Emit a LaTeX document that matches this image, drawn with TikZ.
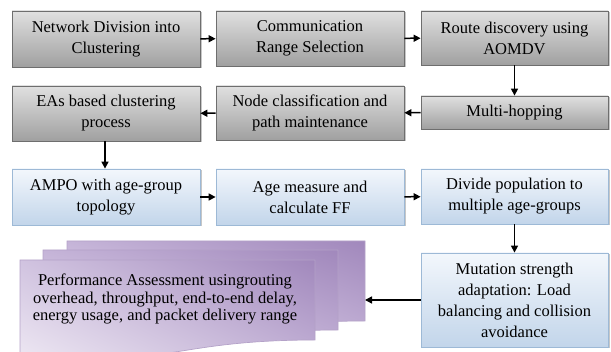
\documentclass[tikz,border=0pt]{standalone}
\usepackage{fontspec}
\setmainfont{Liberation Serif}
\usetikzlibrary{shadows,arrows.meta,shadings}
\definecolor{gborder}{HTML}{6E6E6E}
\definecolor{gtop}{HTML}{E0E0E0}
\definecolor{gbot}{HTML}{A0A0A0}
\definecolor{bborder}{HTML}{9DB9D6}
\definecolor{btop}{HTML}{F3F7FC}
\definecolor{bbot}{HTML}{C2D5EA}
\definecolor{pborder}{HTML}{B4A2C8}
\definecolor{pdark}{HTML}{A188BC}
\definecolor{pmid}{HTML}{C5B4D8}
\definecolor{plight}{HTML}{F1ECF5}
\begin{document}
\begin{tikzpicture}[x=1pt,y=-1pt,
  boxbase/.style={line width=0.8pt, align=center, inner sep=2pt,
    font=\fontsize{16.5}{21}\selectfont, minimum width=188pt,
    drop shadow={shadow xshift=1.5pt,shadow yshift=-1.5pt,fill=gray!55,opacity=0.8}},
  gbox/.style={boxbase, draw=gborder, top color=gtop, bottom color=gbot},
  bbox/.style={boxbase, draw=bborder, top color=btop, bottom color=bbot},
  arr/.style={-{Triangle[length=7pt,width=7pt]}, line width=1.5pt, black},
  pagestyle/.style={draw=pborder, line width=0.7pt}
]
\useasboundingbox (0,0) rectangle (611,352);

% row 1
\node[gbox, minimum height=56pt] (n1) at (106,39) {Network Division into\\Clustering};
\node[gbox, minimum height=55pt] (n2) at (310,38.5) {Communication\\Range Selection};
\node[gbox, minimum height=54pt, minimum width=187pt] (n3) at (514.5,38) {Route discovery using\\AOMDV};
% row 2
\node[gbox, minimum height=33pt, minimum width=187pt] (n4) at (514.5,112.5) {Multi-hopping};
\node[gbox, minimum height=54pt] (n5) at (310,113) {Node classification and\\path maintenance};
\node[gbox, minimum height=55pt] (n6) at (106,113.5) {EAs based clustering\\process};
% row 3
\node[bbox, minimum height=56pt] (n7) at (106,197) {AMPO with age-group\\topology};
\node[bbox, minimum height=56pt] (n8) at (310,197) {Age measure and\\calculate FF};
\node[bbox, minimum height=55pt, minimum width=187pt] (n9) at (514.5,196.5) {Divide population to\\multiple age-groups};
\node[bbox, minimum height=94pt, minimum width=187pt] (n10) at (514.5,300) {Mutation strength\\adaptation: Load\\balancing and collision\\avoidance};

% stacked documents
\shade[pagestyle, upper right=pdark, upper left=pmid, lower right=pmid, lower left=plight]
  (67,241) -- (365,241) -- (365,321) .. controls (216,321) and (216,351.7) .. (67,334.4) -- cycle;
\shade[pagestyle, upper right=pdark, upper left=pmid, lower right=pmid, lower left=plight]
  (43,250) -- (338,250) -- (338,330) .. controls (190.5,330) and (190.5,360.7) .. (43,343.4) -- cycle;
\shade[pagestyle, upper right=pdark, upper left=pmid!80!white, lower right=pmid, lower left=plight]
  (20,260) -- (315,260) -- (315,340) .. controls (167.5,340) and (167.5,370.7) .. (20,353.4) -- cycle;
\node[align=center, font=\fontsize{16.5}{17.5}\selectfont, inner sep=0pt] (perf) at (165,299)
  {Performance Assessment usingrouting\\overhead, throughput, end-to-end delay,\\energy usage, and packet delivery range};
\coordinate (stk) at (365,300);

% connectors
\draw[arr] (n1) -- (n2);
\draw[arr] (n2) -- (n3);
\draw[arr] (n3) -- (n4);
\draw[arr] (n4) -- (n5);
\draw[arr] (n5) -- (n6);
\draw[arr] (n6.south -| 105,0) -- (n7.north -| 105,0);
\draw[arr] (n7) -- (n8);
\draw[arr] (n8) -- (n9);
\draw[arr] (n9) -- (n10);
\draw[arr] (n10.west) -- (stk);
\end{tikzpicture}
\end{document}
